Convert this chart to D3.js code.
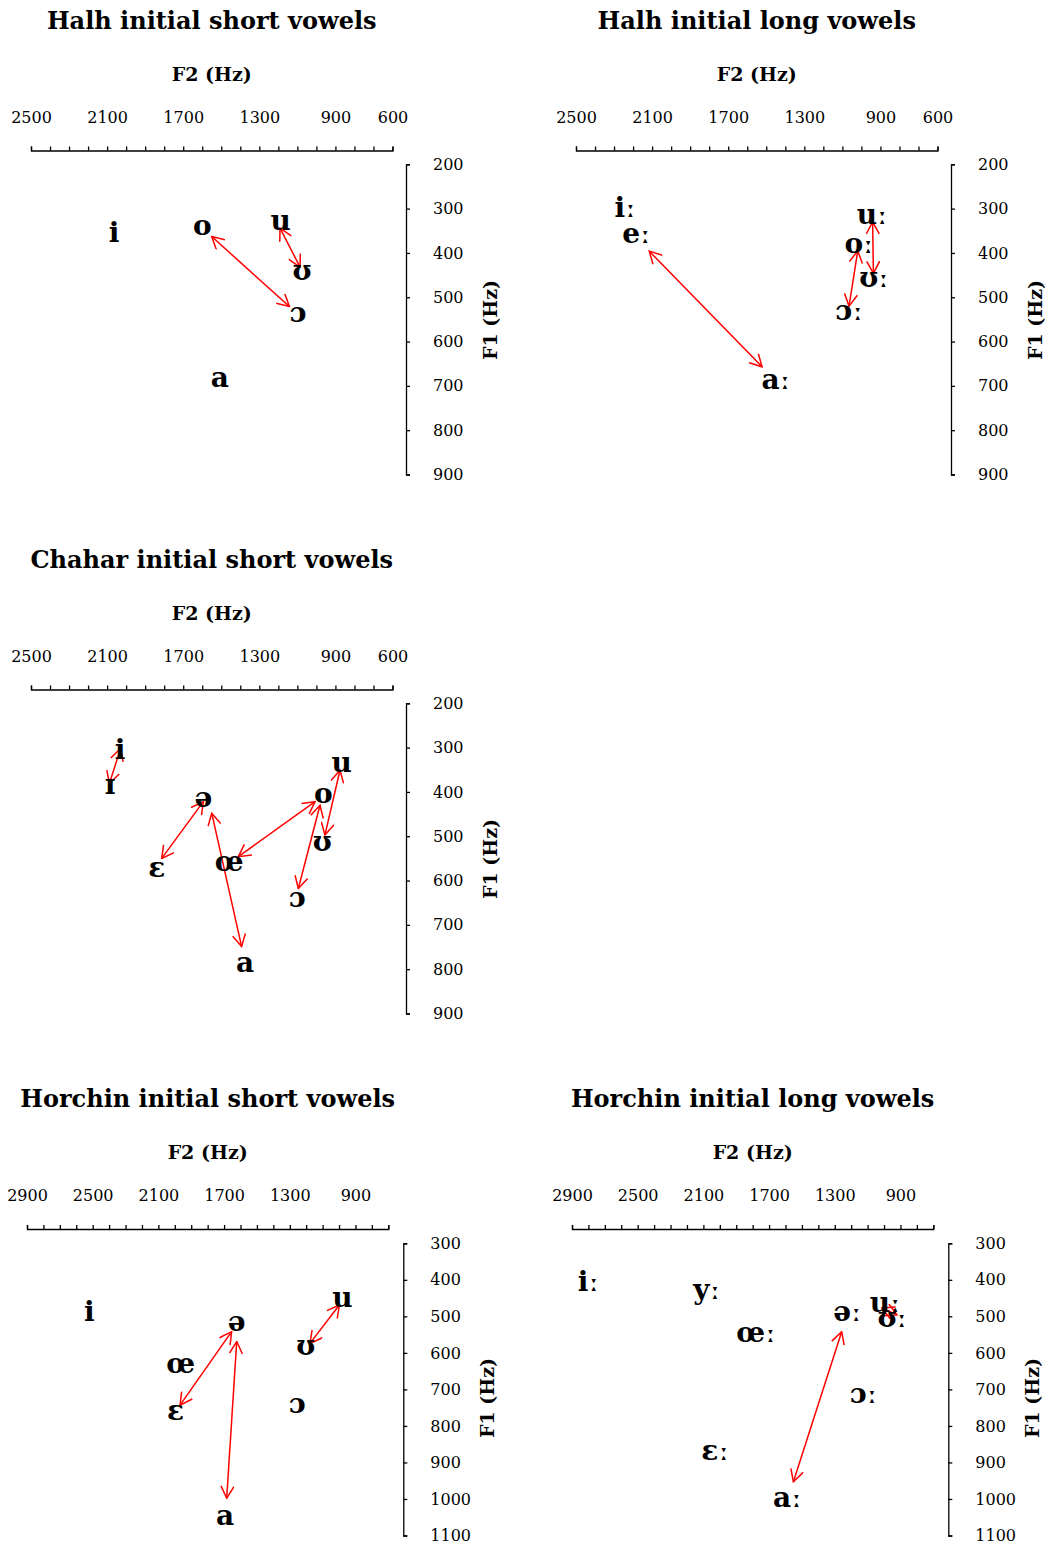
<!doctype html>
<html lang="en">
<head>
<meta charset="UTF-8">
<title>Mongolian initial vowels</title>
<style>
  body { margin: 0; background: #fff; }
  svg text { font-family: "DejaVu Serif", serif; fill: #000; }
  .title { font-weight: bold; font-size: 24px; }
  .axis-title { font-weight: bold; font-size: 19px; }
  .vowel { font-weight: bold; font-size: 28px; }
  .axis text { font-size: 16px; }
  .axis path, .axis line { stroke: #000; stroke-width: 1.3; }
  .move { stroke: #f00; stroke-width: 1.5; fill: none; }
</style>
</head>
<body>
<div id="chart"></div>
<script src="https://d3js.org/d3.v7.min.js"></script>
<script>
// --- data (Hz) ---
const f2TicksA = [2500, 2100, 1700, 1300, 900, 600]
const f2TicksB = [2900, 2500, 2100, 1700, 1300, 900]
const f1TicksA = [200, 300, 400, 500, 600, 700, 800, 900]
const f1TicksB = [300, 400, 500, 600, 700, 800, 900, 1000, 1100]

const halhShortVowels = ['i', 'o', 'u', 'ʊ', 'ɔ', 'a']
const halhShortF2 = [2064, 1599, 1188, 1076, 1097, 1507]
const halhShortF1 = [360, 342, 332, 445, 540, 687]
const halhShortArrows = [[1550, 363, 1142, 521], [1191, 344, 1086, 432]]

const halhLongVowels = ['iː', 'eː', 'aː', 'uː', 'oː', 'ʊː', 'ɔː']
const halhLongF2 = [2242, 2183, 1450, 944, 1013, 934, 1065]
const halhLongF1 = [303, 362, 691, 318, 384, 461, 536]
const halhLongArrows = [[2115, 396, 1522, 657], [941, 330, 937, 446], [1019, 395, 1065, 520]]

const chaharShortVowels = ['i', 'ɪ', 'ə', 'ɛ', 'œ', 'o', 'u', 'ʊ', 'ɔ', 'a']
const chaharShortF2 = [2032, 2085, 1594, 1839, 1459, 964, 867, 969, 1100, 1375]
const chaharShortF1 = [309, 388, 418, 575, 563, 409, 338, 518, 644, 791]
const chaharShortArrows = [
  [2029, 302, 2088, 381], [1594, 422, 1813, 550], [1550, 448, 1393, 749],
  [1410, 546, 1007, 422], [981, 430, 1095, 618], [876, 351, 955, 497]
]

const horchinShortVowels = ['i', 'ə', 'œ', 'ɛ', 'a', 'u', 'ʊ', 'ɔ']
const horchinShortF2 = [2521, 1623, 1964, 1995, 1694, 980, 1203, 1254]
const horchinShortF1 = [492, 519, 636, 764, 1050, 455, 586, 745]
const horchinShortArrows = [[1654, 542, 1968, 743], [1623, 569, 1684, 998], [998, 469, 1177, 574]]

const horchinLongVowels = ['iː', 'yː', 'œː', 'əː', 'uː', 'ʊː', 'ɔː', 'ɛː', 'aː']
const horchinLongF2 = [2801, 2080, 1780, 1224, 994, 950, 1126, 2029, 1589]
const horchinLongF1 = [410, 432, 549, 492, 467, 508, 718, 873, 1001]
const horchinLongArrows = [[1258, 542, 1552, 953], [1012, 477, 921, 496]]

const width = 1048
const height = 1547

const svg = d3.select('#chart')
  .append('svg')
  .attr('width', width)
  .attr('height', height)

// open V arrowhead, used on both ends
svg.append('defs')
  .append('marker')
  .attr('id', 'head')
  .attr('viewBox', '0 0 14 14')
  .attr('refX', 13)
  .attr('refY', 7)
  .attr('markerWidth', 14)
  .attr('markerHeight', 14)
  .attr('markerUnits', 'userSpaceOnUse')
  .attr('orient', 'auto-start-reverse')
  .append('path')
  .attr('d', 'M1,0.5 L13,7 L1,13.5')
  .attr('fill', 'none')
  .attr('stroke', '#f00')
  .attr('stroke-width', 1.5)

function drawPanel(opts) {
  const g = svg.append('g').attr('transform', `translate(${opts.left}, ${opts.top})`)

  const x = d3.scaleLinear().domain(opts.f2Domain).range(opts.xRange)
  const y = d3.scaleLinear().domain(opts.f1Domain).range(opts.yRange)
  const midX = (opts.xRange[0] + opts.xRange[1]) / 2

  g.append('text')
    .attr('class', 'title')
    .attr('x', midX)
    .attr('y', 29)
    .attr('text-anchor', 'middle')
    .text(opts.title)

  g.append('text')
    .attr('class', 'axis-title')
    .attr('x', midX)
    .attr('y', 81)
    .attr('text-anchor', 'middle')
    .text('F2 (Hz)')

  const minorF2 = d3.range(opts.f2Domain[1], opts.f2Domain[0] + 1, 100)
  g.append('g')
    .attr('class', 'axis')
    .attr('transform', `translate(0, ${opts.xAxisY})`)
    .call(d3.axisTop(x).tickValues(minorF2).tickSize(4).tickSizeOuter(4)
      .tickPadding(24)
      .tickFormat(d => opts.f2Labels.includes(d) ? d : ''))

  g.append('g')
    .attr('class', 'axis')
    .attr('transform', `translate(${opts.yAxisX}, 0)`)
    .call(d3.axisRight(y).tickValues(opts.f1Labels).tickSize(4).tickSizeOuter(4)
      .tickPadding(23).tickFormat(d3.format('d')))

  g.append('text')
    .attr('class', 'axis-title')
    .attr('transform', `translate(${opts.yAxisX + 91}, ${opts.f1TitleY}) rotate(-90)`)
    .attr('text-anchor', 'middle')
    .text('F1 (Hz)')

  g.selectAll('.move')
    .data(opts.arrows)
    .enter()
    .append('line')
    .attr('class', 'move')
    .attr('x1', d => x(d[0]))
    .attr('y1', d => y(d[1]))
    .attr('x2', d => x(d[2]))
    .attr('y2', d => y(d[3]))
    .attr('marker-start', 'url(#head)')
    .attr('marker-end', 'url(#head)')

  g.selectAll('.vowel')
    .data(opts.vowels)
    .enter()
    .append('text')
    .attr('class', 'vowel')
    .attr('x', (d, i) => x(opts.f2[i]))
    .attr('y', (d, i) => y(opts.f1[i]))
    .attr('dy', '0.26em')
    .attr('text-anchor', 'middle')
    .text(d => d)
}

const layoutA = { xRange: [31, 392.5], yRange: [164.3, 474.5], xAxisY: 150.5, yAxisX: 406, f1TitleY: 320 }
const layoutB = { xRange: [27, 388.3], yRange: [165.3, 457.5], xAxisY: 151, yAxisX: 403.3, f1TitleY: 320 }

drawPanel({
  ...layoutA, left: 0, top: 0, title: 'Halh initial short vowels',
  f2Domain: [2500, 600], f1Domain: [200, 900], f2Labels: f2TicksA, f1Labels: f1TicksA,
  vowels: halhShortVowels, f2: halhShortF2, f1: halhShortF1, arrows: halhShortArrows
})
drawPanel({
  ...layoutA, left: 545, top: 0, title: 'Halh initial long vowels',
  f2Domain: [2500, 600], f1Domain: [200, 900], f2Labels: f2TicksA, f1Labels: f1TicksA,
  vowels: halhLongVowels, f2: halhLongF2, f1: halhLongF1, arrows: halhLongArrows
})
drawPanel({
  ...layoutA, left: 0, top: 539, title: 'Chahar initial short vowels',
  f2Domain: [2500, 600], f1Domain: [200, 900], f2Labels: f2TicksA, f1Labels: f1TicksA,
  vowels: chaharShortVowels, f2: chaharShortF2, f1: chaharShortF1, arrows: chaharShortArrows
})
drawPanel({
  ...layoutB, left: 0, top: 1078, title: 'Horchin initial short vowels',
  f2Domain: [2900, 700], f1Domain: [300, 1100], f2Labels: f2TicksB, f1Labels: f1TicksB,
  vowels: horchinShortVowels, f2: horchinShortF2, f1: horchinShortF1, arrows: horchinShortArrows
})
drawPanel({
  ...layoutB, left: 545, top: 1078, title: 'Horchin initial long vowels',
  f2Domain: [2900, 700], f1Domain: [300, 1100], f2Labels: f2TicksB, f1Labels: f1TicksB,
  vowels: horchinLongVowels, f2: horchinLongF2, f1: horchinLongF1, arrows: horchinLongArrows
})
</script>
</body>
</html>
